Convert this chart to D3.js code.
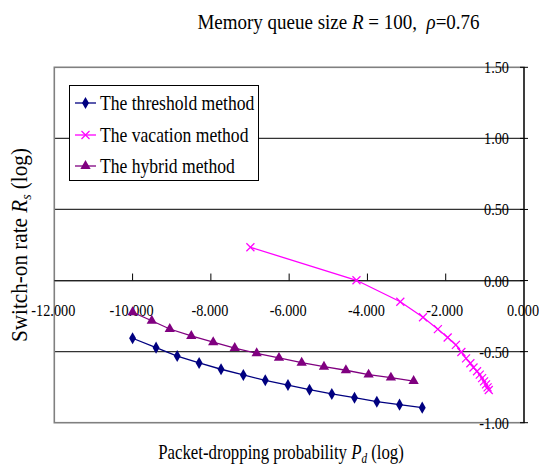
<!DOCTYPE html>
<html>
<head>
<meta charset="utf-8">
<script src="https://cdn.jsdelivr.net/npm/d3@7"></script>
<style>
  html, body { margin: 0; padding: 0; background: #fff; }
</style>
</head>
<body>
<svg id="chart" width="539" height="466"></svg>
<script>
// Packet-dropping probability (log) vs switch-on rate (log)
const thresholdX = [-10.00, -9.40, -8.86, -8.30, -7.74, -7.17, -6.61, -6.03, -5.48, -4.91, -4.33, -3.76, -3.18, -2.60];
const thresholdY = [-0.406, -0.472, -0.531, -0.580, -0.624, -0.664, -0.702, -0.735, -0.768, -0.798, -0.824, -0.852, -0.873, -0.894];

const vacationX = [-6.99, -4.28, -3.16, -2.58, -2.20, -1.95, -1.74, -1.60, -1.48, -1.37, -1.29, -1.20, -1.13, -1.07, -1.02, -0.97, -0.93, -0.90];
const vacationY = [0.234, 0.002, -0.149, -0.258, -0.342, -0.401, -0.453, -0.503, -0.547, -0.582, -0.612, -0.638, -0.662, -0.686, -0.709, -0.730, -0.751, -0.770];

const hybridX = [-10.00, -9.51, -9.05, -8.50, -7.94, -7.39, -6.83, -6.26, -5.68, -5.11, -4.55, -3.97, -3.40, -2.82];
const hybridY = [-0.223, -0.283, -0.341, -0.390, -0.434, -0.475, -0.512, -0.544, -0.578, -0.606, -0.631, -0.662, -0.683, -0.707];

const seriesNames = ["The threshold method", "The vacation method", "The hybrid method"];
const xTicks = [-12, -10, -8, -6, -4, -2, 0];
const yTicks = [1.5, 1.0, 0.5, 0.0, -0.5, -1.0];

const colors = { threshold: "#000080", vacation: "#FF00FF", hybrid: "#800080" };
const FONT = "'Liberation Serif', 'DejaVu Serif', 'Times New Roman', serif";

const svg = d3.select("#chart");
const plot = { left: 54.3, right: 524, top: 67.3, bottom: 422.7 };

const x = d3.scaleLinear().domain([-12, 0]).range([plot.left, plot.right]);
const y = d3.scaleLinear().domain([-1, 1.5]).range([plot.bottom, plot.top]);

// condensed text: group translated to anchor point, horizontally squeezed
function ctext(parent, px, py, anchor, size, factor, rotate) {
  const g = parent.append("g")
    .attr("transform", `translate(${px},${py})` + (rotate ? ` rotate(${rotate})` : "") + ` scale(${factor},1)`);
  return g.append("text")
    .attr("text-anchor", anchor)
    .attr("font-family", FONT)
    .attr("font-size", size)
    .attr("fill", "#000");
}

// gridlines
svg.append("g").selectAll("line")
  .data(yTicks.filter(v => v < 1.5 && v > -1))
  .join("line")
  .attr("x1", plot.left).attr("x2", plot.right)
  .attr("y1", d => y(d)).attr("y2", d => y(d))
  .attr("stroke", d => d === 0 ? "#222" : "#333")
  .attr("stroke-width", 1.2);

// plot border
svg.append("rect")
  .attr("x", plot.left).attr("y", plot.top)
  .attr("width", plot.right - plot.left).attr("height", plot.bottom - plot.top)
  .attr("fill", "none").attr("stroke", "#808080").attr("stroke-width", 1.6);

// x axis along y = 0, ticks pointing up
const xAxisG = svg.append("g");
xAxisG.append("line")
  .attr("x1", plot.left).attr("x2", plot.right)
  .attr("y1", y(0)).attr("y2", y(0))
  .attr("stroke", "#222").attr("stroke-width", 1.2);
xAxisG.selectAll("line.tick")
  .data(xTicks.filter(v => v > -12 && v < 0))
  .join("line").attr("class", "tick")
  .attr("x1", d => x(d)).attr("x2", d => x(d))
  .attr("y1", y(0)).attr("y2", y(0) - 7)
  .attr("stroke", "#000").attr("stroke-width", 1);
xTicks.forEach(v => {
  ctext(svg, x(v) - 1, y(0) + 35, "middle", 17, 0.84).text(d3.format(".3f")(v).replace("−", "-"));
});

// y axis at right edge
const yAxisG = svg.append("g");
yAxisG.append("line")
  .attr("x1", plot.right).attr("x2", plot.right)
  .attr("y1", plot.top).attr("y2", plot.bottom)
  .attr("stroke", "#000").attr("stroke-width", 1.2);
yAxisG.selectAll("line.tick")
  .data(yTicks)
  .join("line").attr("class", "tick")
  .attr("x1", plot.right - 4).attr("x2", plot.right + 4)
  .attr("y1", d => y(d)).attr("y2", d => y(d))
  .attr("stroke", "#000").attr("stroke-width", 1);
yTicks.forEach(v => {
  ctext(svg, plot.right - 15, y(v) + 6, "end", 17, 0.84).text(d3.format(".2f")(v).replace("−", "-"));
});

// series
const line = d3.line().x(d => x(d[0])).y(d => y(d[1]));
const zip = (a, b) => a.map((v, i) => [v, b[i]]);

const thresholdData = zip(thresholdX, thresholdY);
const vacationData = zip(vacationX, vacationY);
const hybridData = zip(hybridX, hybridY);

function drawLine(data, color) {
  svg.append("path").datum(data)
    .attr("d", line).attr("fill", "none")
    .attr("stroke", color).attr("stroke-width", 1.3);
}
drawLine(thresholdData, colors.threshold);
drawLine(vacationData, colors.vacation);
drawLine(hybridData, colors.hybrid);

const diamond = d3.symbol().type(d3.symbolDiamond).size(42);
const triangle = d3.symbol().type(d3.symbolTriangle).size(46);

function diamondMark(g, cx, cy) {
  g.append("path").attr("d", diamond()).attr("transform", `translate(${cx},${cy})`)
    .attr("fill", colors.threshold);
}
function triangleMark(g, cx, cy) {
  g.append("path").attr("d", triangle()).attr("transform", `translate(${cx},${cy})`)
    .attr("fill", colors.hybrid);
}
function crossMark(g, cx, cy) {
  const r = 4;
  g.append("path")
    .attr("d", `M${cx - r},${cy - r}L${cx + r},${cy + r}M${cx - r},${cy + r}L${cx + r},${cy - r}`)
    .attr("stroke", colors.vacation).attr("stroke-width", 1.2).attr("fill", "none");
}

const marks = svg.append("g");
thresholdData.forEach(d => diamondMark(marks, x(d[0]), y(d[1])));
hybridData.forEach(d => triangleMark(marks, x(d[0]), y(d[1])));
vacationData.forEach(d => crossMark(marks, x(d[0]), y(d[1])));

// legend
const legend = svg.append("g");
legend.append("rect")
  .attr("x", 69.5).attr("y", 85.5).attr("width", 189).attr("height", 95)
  .attr("fill", "#fff").attr("stroke", "#000").attr("stroke-width", 1);
const legendRows = [
  { name: seriesNames[0], color: colors.threshold, mark: diamondMark, ly: 103 },
  { name: seriesNames[1], color: colors.vacation, mark: crossMark, ly: 135 },
  { name: seriesNames[2], color: colors.hybrid, mark: triangleMark, ly: 166 }
];
legendRows.forEach(r => {
  legend.append("line")
    .attr("x1", 75).attr("x2", 96).attr("y1", r.ly).attr("y2", r.ly)
    .attr("stroke", r.color).attr("stroke-width", 1.3);
  r.mark(legend, 85.5, r.ly);
  ctext(legend, 100, r.ly + 7, "start", 22, 0.80).text(r.name);
});

// title
const title = ctext(svg, 338.5, 29, "middle", 21, 0.905);
title.append("tspan").text("Memory queue size ");
title.append("tspan").attr("font-style", "italic").text("R");
title.append("tspan").text(" = 100,\u00a0\u00a0");
title.append("tspan").attr("font-style", "italic").text("ρ");
title.append("tspan").text("=0.76");

// x axis title
const xt = ctext(svg, 281, 459, "middle", 21, 0.80);
xt.append("tspan").text("Packet-dropping probability ");
xt.append("tspan").attr("font-style", "italic").text("P");
xt.append("tspan").attr("font-style", "italic").attr("font-size", 14).attr("dy", 4).text("d");
xt.append("tspan").attr("dy", -4).text(" (log)");

// y axis title
const yt = ctext(svg, 27, 245, "middle", 23, 0.92, -90);
yt.append("tspan").text("Switch-on rate ");
yt.append("tspan").attr("font-style", "italic").text("R");
yt.append("tspan").attr("font-style", "italic").attr("font-size", 15).attr("dy", 4).text("s");
yt.append("tspan").attr("dy", -4).text(" (log)");
</script>
</body>
</html>
